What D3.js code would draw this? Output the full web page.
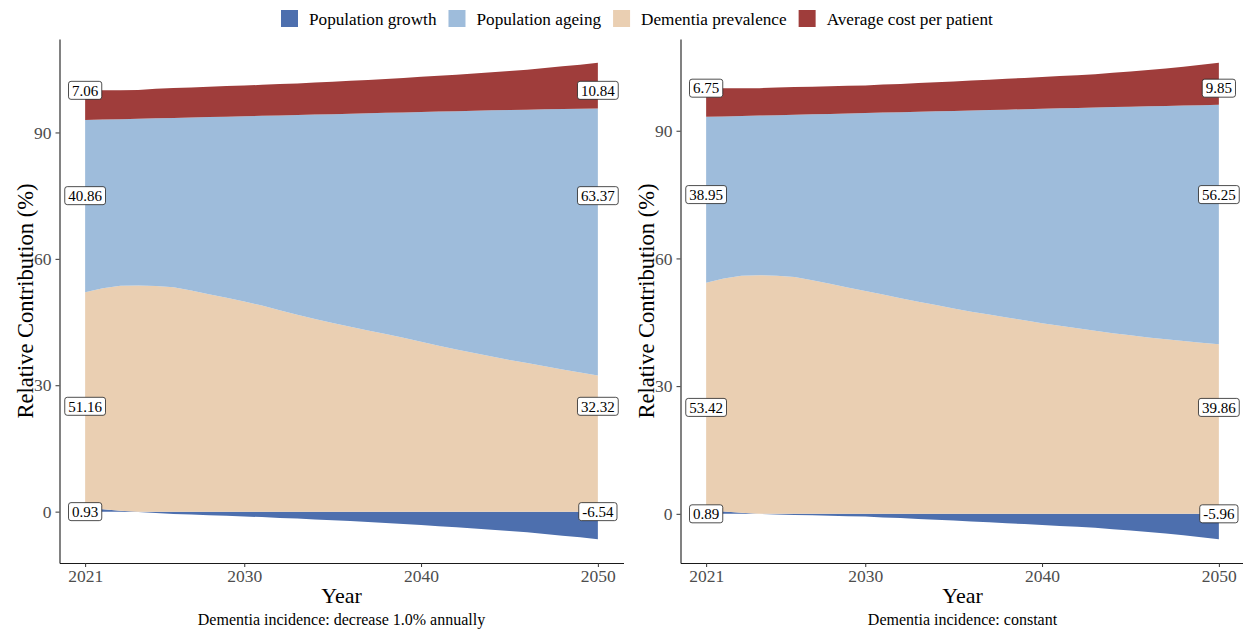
<!DOCTYPE html>
<html>
<head>
<meta charset="utf-8">
<script src="https://cdn.jsdelivr.net/npm/d3@7"></script>
<style>
  html, body { margin: 0; padding: 0; background: #fff; }
  svg { display: block; font-family: "Liberation Serif", "Times New Roman", serif; }
  svg text { font-family: "Liberation Serif", "Times New Roman", serif; }
</style>
</head>
<body>
<svg id="chart" width="1243" height="632"></svg>
<script>
// ---- data -------------------------------------------------------------
const years = [2021, 2022, 2023, 2024, 2025, 2026, 2027, 2028, 2029, 2030,
               2031, 2032, 2033, 2034, 2035, 2036, 2037, 2038, 2039, 2040,
               2041, 2042, 2043, 2044, 2045, 2046, 2047, 2048, 2049, 2050];

const legendNames = ["Population growth", "Population ageing", "Dementia prevalence", "Average cost per patient"];
const legendKeys  = ["growth", "ageing", "prevalence", "cost"];

// stacking order from the baseline upward
const stackKeys = ["growth", "prevalence", "ageing", "cost"];
// height (in %) at which each component's value label sits
const labelLevels = { growth: 0, prevalence: 25, ageing: 75, cost: 100 };

const xTicks = [2021, 2030, 2040, 2050];
const yTicks = [0, 30, 60, 90];

// Scenario 1: incidence falls 1.0% a year
const growthDecline = [0.93, 0.55, 0.20, -0.10, -0.35, -0.55, -0.70, -0.85, -1.00, -1.15,
                       -1.30, -1.50, -1.65, -1.85, -2.05, -2.25, -2.45, -2.70, -2.95, -3.20,
                       -3.45, -3.70, -4.00, -4.30, -4.60, -4.90, -5.30, -5.70, -6.10, -6.54];
const prevalenceDecline = [51.16, 52.45, 53.40, 53.70, 53.55, 53.25, 52.50, 51.60, 50.75, 49.90,
                           48.90, 47.80, 46.75, 45.75, 44.80, 43.90, 43.00, 42.15, 41.25, 40.35,
                           39.40, 38.50, 37.65, 36.80, 36.00, 35.25, 34.50, 33.75, 33.00, 32.32];
const ageingDecline = [40.86, 40.05, 39.55, 39.55, 39.80, 40.20, 41.05, 42.05, 43.00, 43.95,
                       45.05, 46.25, 47.40, 48.50, 49.55, 50.55, 51.55, 52.50, 53.50, 54.50,
                       55.55, 56.55, 57.50, 58.45, 59.35, 60.15, 61.00, 61.80, 62.62, 63.37];
const costDecline = [7.06, 6.95, 6.85, 6.85, 7.00, 7.10, 7.15, 7.20, 7.25, 7.30,
                     7.35, 7.45, 7.50, 7.60, 7.70, 7.80, 7.90, 8.05, 8.20, 8.35,
                     8.50, 8.65, 8.85, 9.05, 9.25, 9.50, 9.80, 10.15, 10.48, 10.84];

// Scenario 2: incidence held constant
const growthConstant = [0.89, 0.55, 0.25, 0.00, -0.15, -0.25, -0.35, -0.45, -0.55, -0.65,
                        -0.85, -1.00, -1.20, -1.40, -1.60, -1.80, -2.00, -2.20, -2.40, -2.60,
                        -2.85, -3.05, -3.30, -3.60, -3.90, -4.25, -4.65, -5.05, -5.50, -5.96];
const prevalenceConstant = [53.42, 54.75, 55.70, 56.05, 55.95, 55.65, 54.90, 54.05, 53.15, 52.35,
                            51.50, 50.65, 49.85, 49.05, 48.25, 47.50, 46.80, 46.10, 45.45, 44.80,
                            44.20, 43.60, 43.00, 42.45, 41.95, 41.45, 41.00, 40.60, 40.20, 39.86];
const ageingConstant = [38.95, 38.06, 37.51, 37.51, 37.71, 38.11, 38.96, 39.91, 40.91, 41.81,
                        42.76, 43.71, 44.61, 45.51, 46.41, 47.26, 48.06, 48.86, 49.61, 50.36,
                        51.06, 51.76, 52.46, 53.11, 53.71, 54.30, 54.84, 55.33, 55.82, 56.25];
const costConstant = [6.75, 6.64, 6.54, 6.44, 6.49, 6.49, 6.49, 6.49, 6.49, 6.49,
                      6.59, 6.64, 6.74, 6.84, 6.94, 7.04, 7.14, 7.24, 7.34, 7.44,
                      7.59, 7.69, 7.84, 8.04, 8.24, 8.50, 8.81, 9.12, 9.48, 9.85];

// ---- styling / layout ---------------------------------------------------
const colors = {
  growth: "#4d6fae",
  ageing: "#9ebcdb",
  prevalence: "#eacfb2",
  cost: "#9f3d3b"
};

const serif = '"Liberation Serif", "Times New Roman", serif';
const panelTop = 39, panelBottom = 563;

const panels = [
  { caption: "Dementia incidence: decrease 1.0% annually",
    series: { growth: growthDecline, prevalence: prevalenceDecline, ageing: ageingDecline, cost: costDecline },
    left: 59.5, right: 623.5 },
  { caption: "Dementia incidence: constant",
    series: { growth: growthConstant, prevalence: prevalenceConstant, ageing: ageingConstant, cost: costConstant },
    left: 680.5, right: 1244.5 }
];

const svg = d3.select("#chart");

// ---- legend -------------------------------------------------------------
const legend = svg.append("g").attr("class", "legend");
let lx = 281;
legendKeys.forEach((k, i) => {
  legend.append("rect")
    .attr("x", lx).attr("y", 10)
    .attr("width", 17).attr("height", 17)
    .attr("fill", colors[k]);
  const t = legend.append("text")
    .attr("x", lx + 28).attr("y", 24.5)
    .style("font-family", serif)
    .attr("font-size", 17.2)
    .attr("fill", "#000")
    .text(legendNames[i]);
  lx += 28 + t.node().getComputedTextLength() + 12;
});

// ---- panels -------------------------------------------------------------
panels.forEach(p => {
  const rows = years.map((yr, i) => {
    const r = { year: yr };
    stackKeys.forEach(k => { r[k] = p.series[k][i]; });
    return r;
  });

  const layers = d3.stack()
    .keys(stackKeys)
    .offset(d3.stackOffsetDiverging)(rows);

  const lo = d3.min(layers, l => d3.min(l, d => Math.min(d[0], d[1])));
  const hi = d3.max(layers, l => d3.max(l, d => Math.max(d[0], d[1])));
  const yPad = (hi - lo) * 0.05;
  const x0 = d3.min(years), x1 = d3.max(years);
  const xPad = (x1 - x0) * 0.05;

  const x = d3.scaleLinear().domain([x0 - xPad, x1 + xPad]).range([p.left, p.right]);
  const y = d3.scaleLinear().domain([lo - yPad, hi + yPad]).range([panelBottom, panelTop]);

  const area = d3.area()
    .x(d => x(d.data.year))
    .y0(d => y(d[0]))
    .y1(d => y(d[1]));

  const g = svg.append("g");

  g.selectAll("path.layer")
    .data(layers)
    .join("path")
    .attr("class", "layer")
    .attr("d", area)
    .attr("fill", d => colors[d.key]);

  // axes
  const ax = g.append("g")
    .attr("transform", `translate(0,${panelBottom})`)
    .call(d3.axisBottom(x).tickValues(xTicks).tickFormat(d3.format("d"))
      .tickSize(4).tickPadding(3).tickSizeOuter(0));
  const ay = g.append("g")
    .attr("transform", `translate(${p.left},0)`)
    .call(d3.axisLeft(y).tickValues(yTicks)
      .tickSize(4).tickPadding(4).tickSizeOuter(0));

  [ax, ay].forEach(a => {
    a.attr("font-family", null).attr("font-size", null);
    a.select(".domain").attr("stroke", "#1a1a1a").attr("stroke-width", 1.1);
    a.selectAll(".tick line").attr("stroke", "#333");
    a.selectAll(".tick text")
      .attr("fill", "#4d4d4d")
      .style("font-family", serif)
      .style("font-size", "17.5px");
  });

  // value labels at both ends of the period
  const ends = [0, years.length - 1];
  stackKeys.forEach(k => {
    ends.forEach(i => {
      const v = p.series[k][i];
      const cx = x(years[i]);
      const cy = y(labelLevels[k]);
      const lg = g.append("g").attr("transform", `translate(${cx},${cy})`);
      const rect = lg.append("rect");
      const txt = lg.append("text")
        .attr("text-anchor", "middle")
        .attr("dy", "0.35em")
        .style("font-family", serif)
        .attr("font-size", 15)
        .attr("fill", "#000")
        .text(v.toFixed(2));
      const w = txt.node().getComputedTextLength() + 7;
      const h = 18;
      rect.attr("x", -w / 2).attr("y", -h / 2)
        .attr("width", w).attr("height", h)
        .attr("rx", 2.5).attr("ry", 2.5)
        .attr("fill", "#fff")
        .attr("stroke", "#222")
        .attr("stroke-width", 0.8);
    });
  });

  // titles
  const cxp = (p.left + p.right) / 2;
  g.append("text")
    .attr("x", cxp).attr("y", 603)
    .attr("text-anchor", "middle")
    .style("font-family", serif)
    .attr("font-size", 22)
    .attr("fill", "#000")
    .text("Year");

  g.append("text")
    .attr("x", cxp).attr("y", 625)
    .attr("text-anchor", "middle")
    .style("font-family", serif)
    .attr("font-size", 16)
    .attr("fill", "#000")
    .text(p.caption);

  g.append("text")
    .attr("transform", `translate(${p.left - 26.5},${(panelTop + panelBottom) / 2}) rotate(-90)`)
    .attr("text-anchor", "middle")
    .style("font-family", serif)
    .attr("font-size", 22.5)
    .attr("fill", "#000")
    .text("Relative Contribution (%)");
});
</script>
</body>
</html>
